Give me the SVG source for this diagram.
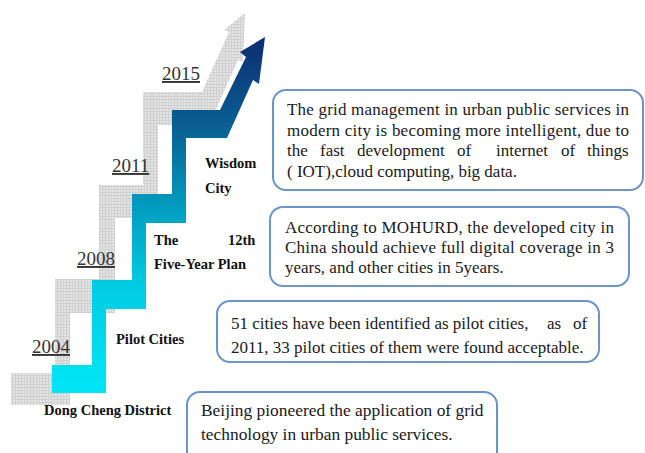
<svg xmlns="http://www.w3.org/2000/svg" width="645" height="453" viewBox="0 0 645 453">
<style>
.box{fill:#ffffff;stroke:#6b95c9;stroke-width:2}
.txt{font-family:"Liberation Serif","Times New Roman",serif;font-size:17px;fill:#1a1a1a}
.lbl{font-family:"Liberation Serif","Times New Roman",serif;font-size:14.5px;font-weight:bold;fill:#111}
.yr{font-family:"Liberation Serif","Times New Roman",serif;font-size:19px;fill:#333;text-decoration:underline}
</style>
<defs>
<pattern id="hatch" width="3" height="3" patternUnits="userSpaceOnUse">
<rect width="3" height="3" fill="#e4e4e4"/>
<rect width="3" height="1" fill="#d0d0d0"/>
<rect width="1" height="3" fill="#d0d0d0"/>
</pattern>
<linearGradient id="stairGrad" gradientUnits="userSpaceOnUse" x1="0" y1="393" x2="0" y2="37">
<stop offset="0" stop-color="#00e6f6"/>
<stop offset="0.3" stop-color="#00cce2"/>
<stop offset="0.5" stop-color="#00a2c4"/>
<stop offset="0.75" stop-color="#0a5f92"/>
<stop offset="1" stop-color="#0d2c72"/>
</linearGradient>
</defs>
<rect width="645" height="453" fill="#ffffff"/>

<g id="shadow-stairs">
<polygon fill="url(#hatch)" points="11,405 70,405 70,313 115,313 115,218 158,218 158,125 209,125 238,60 243,62 245,13 224,30 229,32 202,92 143,92 143,185 99,185 99,279 55,279 55,373 11,373"/>
</g>

<g id="stairs-arrow">
<polygon fill="url(#stairGrad)" points="52,393 106,393 106,309 146,309 146,223 186,223 186,138 227,138 253,80 259,84 265,37 240,52 246,57 220,110 172,110 172,194 132,194 132,280 92,280 92,365 52,365"/>
</g>

<g id="years">
<text class="yr" x="162" y="80">2015</text>
<text class="yr" x="112" y="172">2011</text>
<text class="yr" x="77" y="265">2008</text>
<text class="yr" x="32" y="353">2004</text>
</g>

<g id="stage-labels">
<text class="lbl" x="205" y="168">Wisdom</text>
<text class="lbl" x="205" y="193">City</text>
<text class="lbl" x="154" y="245">The</text>
<text class="lbl" x="228" y="245">12th</text>
<text class="lbl" x="154" y="269">Five-Year Plan</text>
<text class="lbl" x="116" y="344">Pilot Cities</text>
<text class="lbl" x="44" y="415">Dong Cheng District</text>
</g>

<g id="node-wisdom">
<rect class="box" x="273" y="90" width="370" height="100" rx="13"/>
<text class="txt" x="287" y="115" textLength="342" lengthAdjust="spacing">The grid management in urban public services in</text>
<text class="txt" x="287" y="136" textLength="342" lengthAdjust="spacing">modern city is becoming more intelligent, due to</text>
<text class="txt" y="156"><tspan x="287">the</tspan><tspan x="320">fast</tspan><tspan x="357">development</tspan><tspan x="457">of</tspan><tspan x="496">internet</tspan><tspan x="561">of</tspan><tspan x="587">things</tspan></text>
<text class="txt" x="287" y="177">( IOT),cloud computing, big data.</text>
</g>

<g id="node-plan">
<rect class="box" x="270" y="207" width="359" height="79" rx="13"/>
<text class="txt" x="285" y="233" textLength="329" lengthAdjust="spacing">According to MOHURD, the developed city in</text>
<text class="txt" x="285" y="253" textLength="329" lengthAdjust="spacing">China should achieve full digital coverage in 3</text>
<text class="txt" x="285" y="273">years, and other cities in 5years.</text>
</g>

<g id="node-pilot">
<rect class="box" x="217" y="301" width="382" height="61" rx="13"/>
<text class="txt" y="329"><tspan x="231">51 cities have been identified as pilot cities,</tspan><tspan x="547">as</tspan><tspan x="573">of</tspan></text>
<text class="txt" x="231" y="353">2011, 33 pilot cities of them were found acceptable.</text>
</g>

<g id="node-dongcheng">
<rect class="box" x="187" y="392" width="310" height="80" rx="13"/>
<text class="txt" x="201" y="416" style="font-size:17.4px">Beijing pioneered the application of grid</text>
<text class="txt" x="201" y="440" style="font-size:17.4px">technology in urban public services.</text>
</g>

<g id="connectors"/>
</svg>
